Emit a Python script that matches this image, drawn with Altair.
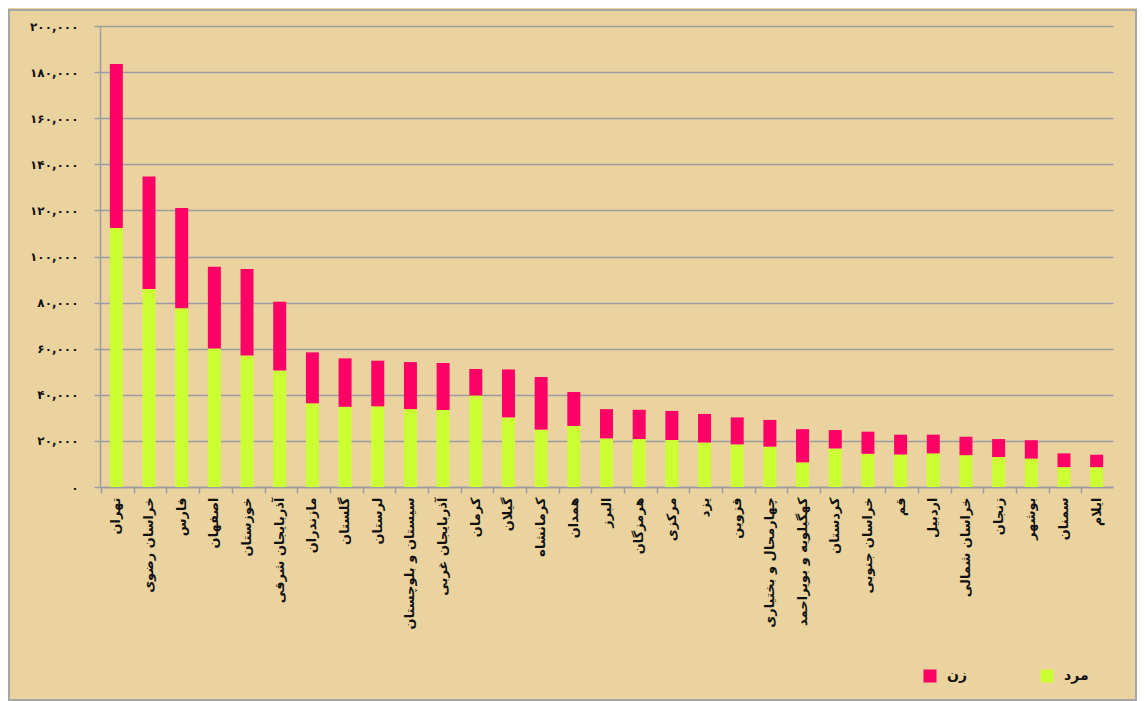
import altair as alt
import pandas as pd

provinces = [
    "تهران", "خراسان رضوی", "فارس", "اصفهان", "خوزستان", "آذربایجان شرقی",
    "مازندران", "گلستان", "لرستان", "سیستان و بلوچستان", "آذربایجان غربی",
    "کرمان", "گیلان", "کرمانشاه", "همدان", "البرز", "هرمزگان", "مرکزی", "یزد",
    "قزوین", "چهارمحال و بختیاری", "کهگیلویه و بویراحمد", "کردستان",
    "خراسان جنوبی", "قم", "اردبیل", "خراسان شمالی", "زنجان", "بوشهر",
    "سمنان", "ایلام",
]
male = [112400, 85900, 77500, 60100, 57100, 50500, 36300, 34800, 35000, 33800,
        33400, 39700, 30200, 24900, 26500, 21100, 20800, 20400, 19300, 18500,
        17500, 10700, 16700, 14400, 14100, 14600, 13800, 13000, 12300, 8600, 8600]
female = [71100, 48800, 43500, 35500, 37500, 29900, 22100, 21000, 19800, 20400,
          20400, 11500, 20800, 22800, 14700, 12700, 12700, 12600, 12400, 11700,
          11600, 14400, 8000, 9600, 8600, 8100, 8000, 7800, 8000, 6000, 5400]
series = ["زن", "مرد"]
colors = ["#FF0066", "#CCFF33"]
y_ticks = [0, 20000, 40000, 60000, 80000, 100000, 120000, 140000, 160000, 180000, 200000]

rows = []
for p, m, f in zip(provinces, male, female):
    rows.append({"province": p, "sex": "مرد", "value": m, "ord": 0})
    rows.append({"province": p, "sex": "زن", "value": f, "ord": 1})
df = pd.DataFrame(rows)

persian = "۰۱۲۳۴۵۶۷۸۹"
expr = "format(datum.value, ',')"
for i, d in enumerate(persian):
    expr = f"replace({expr}, /{i}/g, '{d}')"

W, H = 1013, 461
PL, PT, PR, PB = 92, 18, 24, 214

bars = alt.Chart(df).mark_bar(size=13).encode(
    x=alt.X("province:N", sort=provinces,
            axis=alt.Axis(title=None, labelAngle=270, labelFont="DejaVu Sans",
                          labelFontSize=13, labelFontWeight="bold", labelColor="#111",
                          labelPadding=4, labelLimit=220, tickSize=6, bandPosition=0,
                          tickColor="#9a9da3", domainColor="#9a9da3", domainWidth=1.5,
                          tickWidth=1.5)),
    y=alt.Y("value:Q", stack="zero", scale=alt.Scale(domain=[0, 200000], nice=False),
            axis=alt.Axis(title=None, values=y_ticks, labelExpr=expr,
                          labelFont="DejaVu Sans", labelFontSize=12,
                          labelFontWeight="bold", labelColor="#111", labelPadding=16,
                          tickSize=6, tickColor="#9a9da3", tickWidth=1.5,
                          domainColor="#9a9da3", domainWidth=1.5,
                          gridColor="#9a9da3", gridWidth=1.5)),
    color=alt.Color("sex:N", scale=alt.Scale(domain=series, range=colors),
                    legend=alt.Legend(title=None, orient="none", legendX=823, legendY=643,
                                      direction="horizontal", symbolType="square",
                                      symbolSize=170, symbolStrokeWidth=0,
                                      labelFont="DejaVu Sans", labelFontSize=14,
                                      labelFontWeight="bold", labelColor="#111",
                                      columnPadding=72, padding=0, labelOffset=10)),
    order=alt.Order("ord:Q"),
)

frame = alt.Chart(pd.DataFrame({"a": [1]})).mark_rect(
    fillOpacity=0, stroke="#a6a6a6", strokeWidth=2
).encode(
    x=alt.value(-PL + 1), x2=alt.value(W + PR - 1),
    y=alt.value(-PT + 2), y2=alt.value(H + PB - 1),
)

chart = alt.layer(frame, bars).properties(
    width=W, height=H,
    autosize=alt.AutoSizeParams(type="none"),
    padding={"left": PL, "top": PT, "right": PR, "bottom": PB},
    background="#EAD39E",
).configure_view(stroke=None)

chart.save("out.html", embed_options={"renderer": "svg", "actions": False})
